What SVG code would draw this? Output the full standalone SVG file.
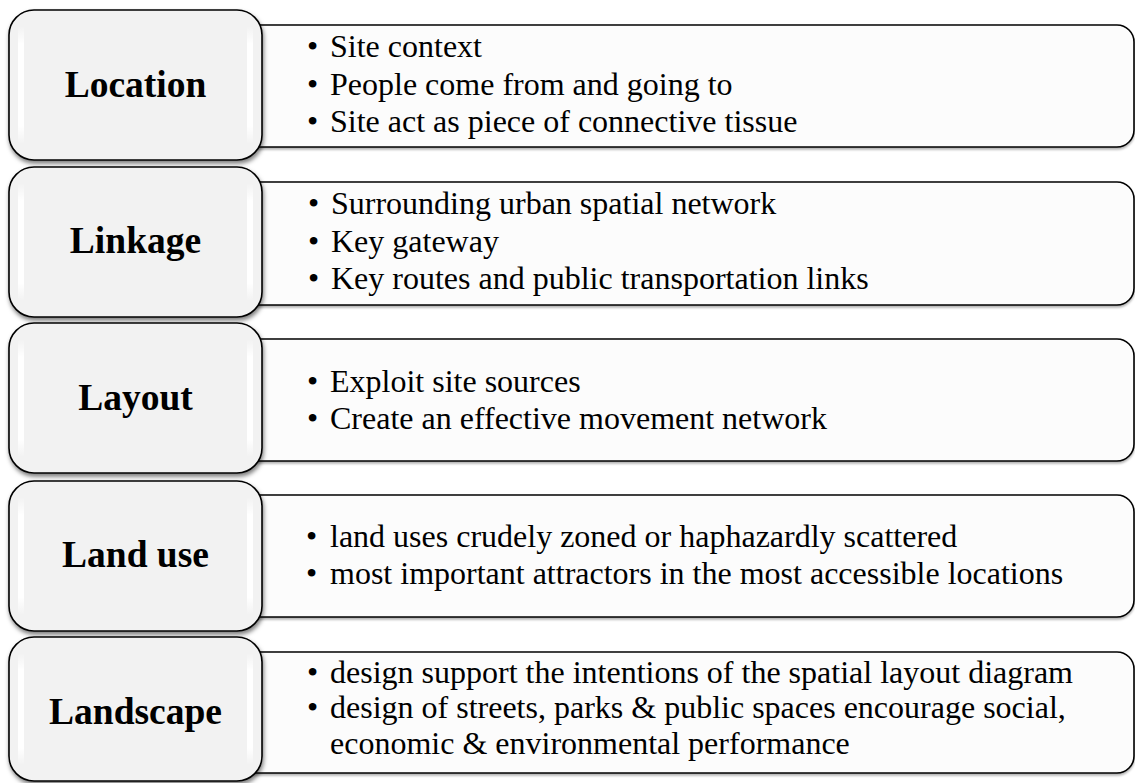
<svg xmlns="http://www.w3.org/2000/svg" width="1135" height="783" viewBox="0 0 1135 783">
<defs>
<style>
.lbox{fill:#f2f2f2;stroke:#000;stroke-width:1.6}
.rbox{fill:#fcfcfc;stroke:#000;stroke-width:1.6}
.lbl{font-family:"Liberation Serif","Times New Roman",serif;font-weight:bold;font-size:37.5px;fill:#000;text-anchor:middle}
.txt{font-family:"Liberation Serif","Times New Roman",serif;font-size:32px;fill:#000}
.gloss{fill:url(#gl)}
</style>
<linearGradient id="gl" x1="0" y1="0" x2="0" y2="1">
<stop offset="0" stop-color="#fff" stop-opacity="0"/>
<stop offset="0.15" stop-color="#fff" stop-opacity="1"/>
<stop offset="0.85" stop-color="#fff" stop-opacity="1"/>
<stop offset="1" stop-color="#fff" stop-opacity="0"/>
</linearGradient>
<filter id="sh" x="-10%" y="-10%" width="120%" height="125%">
<feDropShadow dx="1" dy="3" stdDeviation="2" flood-color="#000" flood-opacity="0.5"/>
</filter>
<filter id="sh2" x="-5%" y="-10%" width="110%" height="125%">
<feDropShadow dx="0" dy="2" stdDeviation="1.2" flood-color="#000" flood-opacity="0.3"/>
</filter>
</defs>

<g id="connectors"></g>

<g id="location-detail">
<rect class="rbox" x="220" y="25" width="914" height="122" rx="17" filter="url(#sh2)"/>
<text class="txt" x="307" y="57">•</text><text class="txt" x="330" y="57">Site context</text>
<text class="txt" x="307" y="95">•</text><text class="txt" x="330" y="95">People come from and going to</text>
<text class="txt" x="307" y="132">•</text><text class="txt" x="330" y="132">Site act as piece of connective tissue</text>
</g>
<g id="location">
<rect class="lbox" x="9" y="10" width="253" height="150" rx="25" filter="url(#sh)"/>
<rect class="gloss" x="18" y="26" width="6" height="118" rx="3"/>
<rect class="gloss" x="247" y="26" width="6" height="118" rx="3"/>
<text class="lbl" x="135.5" y="97">Location</text>
</g>

<g id="linkage-detail">
<rect class="rbox" x="220" y="182" width="914" height="123" rx="17" filter="url(#sh2)"/>
<text class="txt" x="308" y="214">•</text><text class="txt" x="331" y="214">Surrounding urban spatial network</text>
<text class="txt" x="308" y="252">•</text><text class="txt" x="331" y="252">Key gateway</text>
<text class="txt" x="308" y="289">•</text><text class="txt" x="331" y="289">Key routes and public transportation links</text>
</g>
<g id="linkage">
<rect class="lbox" x="9" y="167" width="253" height="150" rx="25" filter="url(#sh)"/>
<rect class="gloss" x="18" y="183" width="6" height="118" rx="3"/>
<rect class="gloss" x="247" y="183" width="6" height="118" rx="3"/>
<text class="lbl" x="135.5" y="253">Linkage</text>
</g>

<g id="layout-detail">
<rect class="rbox" x="220" y="339" width="914" height="122" rx="17" filter="url(#sh2)"/>
<text class="txt" x="307" y="392">•</text><text class="txt" x="330" y="392">Exploit site sources</text>
<text class="txt" x="307" y="429">•</text><text class="txt" x="330" y="429">Create an effective movement network</text>
</g>
<g id="layout">
<rect class="lbox" x="9" y="323" width="253" height="150" rx="25" filter="url(#sh)"/>
<rect class="gloss" x="18" y="339" width="6" height="118" rx="3"/>
<rect class="gloss" x="247" y="339" width="6" height="118" rx="3"/>
<text class="lbl" x="135.5" y="410">Layout</text>
</g>

<g id="landuse-detail">
<rect class="rbox" x="220" y="495" width="914" height="122" rx="17" filter="url(#sh2)"/>
<text class="txt" x="306" y="547">•</text><text class="txt" x="330" y="547">land uses crudely zoned or haphazardly scattered</text>
<text class="txt" x="306" y="584">•</text><text class="txt" x="330" y="584">most important attractors in the most accessible locations</text>
</g>
<g id="landuse">
<rect class="lbox" x="9" y="481" width="253" height="150" rx="25" filter="url(#sh)"/>
<rect class="gloss" x="18" y="497" width="6" height="118" rx="3"/>
<rect class="gloss" x="247" y="497" width="6" height="118" rx="3"/>
<text class="lbl" x="135.5" y="567">Land use</text>
</g>

<g id="landscape-detail">
<rect class="rbox" x="220" y="652" width="914" height="121" rx="17" filter="url(#sh2)"/>
<text class="txt" x="307" y="683">•</text><text class="txt" x="330" y="683">design support the intentions of the spatial layout diagram</text>
<text class="txt" x="307" y="718">•</text><text class="txt" x="330" y="718">design of streets, parks &amp; public spaces encourage social,</text>
<text class="txt" x="330" y="754">economic &amp; environmental performance</text>
</g>
<g id="landscape">
<rect class="lbox" x="9" y="637" width="253" height="144" rx="25" filter="url(#sh)"/>
<rect class="gloss" x="18" y="653" width="6" height="112" rx="3"/>
<rect class="gloss" x="247" y="653" width="6" height="112" rx="3"/>
<text class="lbl" x="135.5" y="724">Landscape</text>
</g>
</svg>
